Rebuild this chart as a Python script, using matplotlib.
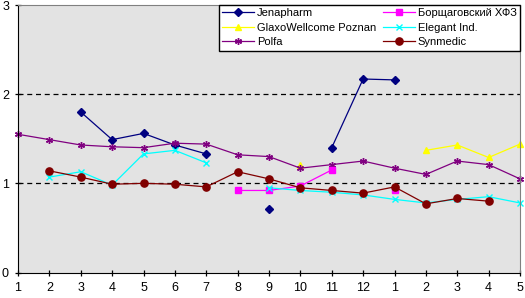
import numpy as np
import matplotlib.pyplot as plt

nan = np.nan

x_labels = ['1', '2', '3', '4', '5', '6', '7', '8', '9', '10', '11', '12',
            '1', '2', '3', '4', '5']

jenapharm = [nan, nan, 1.80, 1.49, 1.56, 1.43, 1.33, nan, 0.71, nan, 1.40, 2.17,
             2.16, nan, nan, nan, nan]
glaxo = [nan, nan, nan, nan, nan, nan, nan, nan, nan, 1.21, nan, nan,
         nan, 1.37, 1.43, 1.29, 1.44]
polfa = [1.55, 1.49, 1.43, 1.41, 1.40, 1.45, 1.44, 1.32, 1.30, 1.17, 1.21, 1.25,
         1.17, 1.10, 1.25, 1.21, 1.05]
borsh = [nan, nan, nan, nan, nan, nan, nan, 0.92, 0.92, 0.97, 1.15, nan,
         0.92, nan, nan, nan, nan]
elegant = [nan, 1.07, 1.13, 0.98, 1.33, 1.37, 1.23, nan, 0.95, 0.92, 0.90, 0.87,
           0.82, 0.78, 0.82, 0.85, 0.78]
synmedic = [nan, 1.14, 1.07, 0.99, 1.00, 0.99, 0.96, 1.13, 1.05, 0.95, 0.92, 0.89,
            0.96, 0.77, 0.83, 0.80, nan]

series = [
    ('Jenapharm', jenapharm, '#000080', 'D', 4.3),
    ('GlaxoWellcome Poznan', glaxo, '#FFFF00', '^', 5.0),
    ('Polfa', polfa, '#800080', (6, 2, 0), 5.0),
    ('Борщаговский ХФЗ', borsh, '#FF00FF', 's', 4.2),
    ('Elegant Ind.', elegant, '#00FFFF', 'x', 4.5),
    ('Synmedic', synmedic, '#800000', 'o', 5.2),
]

plt.rcParams['font.family'] = ['Liberation Sans', 'DejaVu Sans']

fig = plt.figure(figsize=(5.25, 2.98), dpi=100)
ax = fig.add_axes([18 / 525, 1 - 272.5 / 298, 502 / 525, 267.5 / 298])
ax.set_facecolor('#E3E3E3')

xs = np.arange(len(x_labels))
for name, vals, col, mk, ms in series:
    ax.plot(xs, vals, color=col, marker=mk, markersize=ms, linewidth=0.9,
            markeredgecolor=col, markerfacecolor=col, markeredgewidth=1.0,
            label=name, clip_on=False)

for yv in [1, 2]:
    ax.axhline(yv, color='black', linestyle=(0, (4, 3)), linewidth=0.9, zorder=0.5)

ax.set_xlim(0, len(x_labels) - 1)
ax.set_ylim(0, 3)
ax.set_xticks(xs)
ax.set_xticklabels(x_labels)
ax.set_yticks([0, 1, 2, 3])
ax.tick_params(direction='inout', length=5, width=0.9, labelsize=9, pad=4)

for s in ['top', 'right']:
    ax.spines[s].set_color('#808080')
for s in ['left', 'bottom']:
    ax.spines[s].set_color('black')

leg = ax.legend(ncol=2, loc='upper right', bbox_to_anchor=(520 / 525, 1 - 5 / 298),
                bbox_transform=fig.transFigure, fontsize=8, frameon=True,
                fancybox=False, edgecolor='black', framealpha=1,
                borderaxespad=0, handlelength=2.9, handletextpad=0.25,
                columnspacing=0.6, labelspacing=0.4, borderpad=0.3)
leg.get_frame().set_linewidth(1.0)

fig.savefig('out.png', dpi=100)
